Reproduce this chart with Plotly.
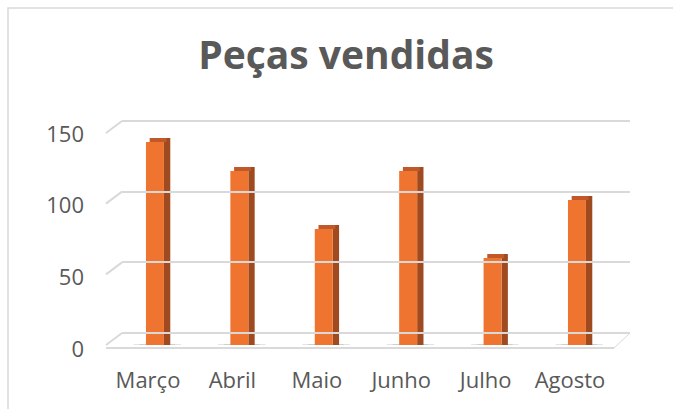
import plotly.graph_objects as go

months = ["Março", "Abril", "Maio", "Junho", "Julho", "Agosto"]
values = [140, 120, 80, 120, 60, 100]
tick_vals = [0, 50, 100, 150]
title = "Peças vendidas"

W, H = 673, 409
def px_x(p): return p / W
def px_y(p): return (H - p) / H

xi = list(range(len(months)))
cap = 2.8  # depth of top face in value units
n = len(months)
fig = go.Figure()

# base shadows
fig.add_trace(go.Bar(x=xi, y=[2.4] * n, base=[-1.8] * n, offset=-0.17, width=0.56,
                     marker=dict(color="rgba(90,90,90,0.22)", line=dict(width=0)), cliponaxis=False,
                     xaxis="x", yaxis="y", hoverinfo="skip", showlegend=False))
fig.add_trace(go.Bar(x=xi, y=[1.6] * n, base=[-1.4] * n, offset=-0.10, width=0.42,
                     marker=dict(color="rgba(50,50,50,0.45)", line=dict(width=0)), cliponaxis=False,
                     xaxis="x", yaxis="y", hoverinfo="skip", showlegend=False))
# side face (darker) extending a bit above
fig.add_trace(go.Bar(x=xi, y=[v + cap for v in values], offset=0.189, width=0.075,
                     marker=dict(color="#A04A20", line=dict(width=0)), xaxis="x", yaxis="y",
                     hoverinfo="skip", showlegend=False))
# top face
fig.add_trace(go.Bar(x=xi, y=[cap] * n, base=values, offset=0.02, width=0.2,
                     marker=dict(color="#C0582A", line=dict(width=0)), xaxis="x", yaxis="y",
                     hoverinfo="skip", showlegend=False))
# front face
fig.add_trace(go.Bar(x=xi, y=values, offset=-0.024, width=0.213,
                     marker=dict(color="#EE7430", line=dict(width=0)), xaxis="x", yaxis="y",
                     name="Peças vendidas", showlegend=False))

# invisible traces so the extra axes render
fig.add_trace(go.Scatter(x=[0], y=[0], xaxis="x2", yaxis="y3", mode="markers",
                         marker=dict(opacity=0), hoverinfo="skip", showlegend=False))
fig.add_trace(go.Scatter(x=[0], y=[0], xaxis="x", yaxis="y2", mode="markers",
                         marker=dict(opacity=0), hoverinfo="skip", showlegend=False))

font = "Open Sans, Liberation Sans, sans-serif"
grey = "#595959"
gridc = "#D9D9D9"

layout_shapes = []
# outer chart border
layout_shapes.append(dict(type="rect", xref="paper", yref="paper",
                          x0=px_x(8), x1=1.05, y0=-0.05, y1=px_y(8),
                          line=dict(color=gridc, width=1.5), fillcolor="rgba(0,0,0,0)", layer="below"))
# diagonals from back wall gridlines to front plane
back_y0, back_y150 = 333, 121
back_scale = (back_y0 - back_y150) / 150
for t in tick_vals:
    yb = back_y0 - t * back_scale
    layout_shapes.append(dict(type="line", xref="paper", yref="paper",
                              x0=px_x(122), y0=px_y(yb), x1=px_x(106), y1=px_y(yb + 12),
                              line=dict(color=gridc, width=2), layer="below"))
# floor front edge
layout_shapes.append(dict(type="line", xref="paper", yref="paper",
                          x0=px_x(106), y0=px_y(348), x1=px_x(614), y1=px_y(348),
                          line=dict(color=gridc, width=2), layer="below"))
layout_shapes.append(dict(type="line", xref="paper", yref="paper",
                          x0=px_x(614), y0=px_y(348), x1=px_x(630), y1=px_y(333),
                          line=dict(color=gridc, width=1), layer="below"))

pad = 2
fig.update_layout(
    width=W, height=H, autosize=False,
    margin=dict(l=0, r=0, t=0, b=0, pad=0, autoexpand=False),
    paper_bgcolor="white", plot_bgcolor="rgba(0,0,0,0)",
    barmode="overlay",
    title=dict(text="<b>" + title + "</b>", x=px_x(346), xanchor="center", y=px_y(55), yanchor="middle",
               xref="container", yref="container", automargin=False,
               font=dict(family=font, size=39, color=grey)),
    xaxis=dict(domain=[px_x(105.8), px_x(612.2)], range=[-0.5, 5.5], anchor="y", automargin=False,
               tickvals=xi, ticktext=months, showgrid=False, zeroline=False, showline=False,
               ticks="outside", ticklen=16, tickcolor="rgba(0,0,0,0)",
               tickfont=dict(family=font, size=22, color=grey)),
    yaxis=dict(domain=[px_y(345), px_y(127.5)], range=[0, 150], visible=False, anchor="x",
               automargin=False),
    yaxis2=dict(domain=[px_y(349), px_y(134)], range=[0, 150], anchor="free", position=px_x(84),
                automargin=False,
                tickvals=tick_vals, showgrid=False, zeroline=False, showline=False,
                tickfont=dict(family=font, size=22, color=grey)),
    xaxis2=dict(domain=[px_x(122), px_x(630)], range=[0, 1], visible=False, anchor="y3",
                automargin=False),
    yaxis3=dict(domain=[px_y(back_y0 + pad * back_scale), px_y(back_y150 - pad * back_scale)],
                range=[-pad, 150 + pad], anchor="x2", automargin=False,
                tickvals=tick_vals, showgrid=True, gridcolor=gridc, gridwidth=2,
                showticklabels=False, zeroline=False, showline=False),
    shapes=layout_shapes,
)

fig.write_html("out.html", config={"displayModeBar": False},
               post_script="document.body.style.margin='0';document.body.style.padding='0';")
